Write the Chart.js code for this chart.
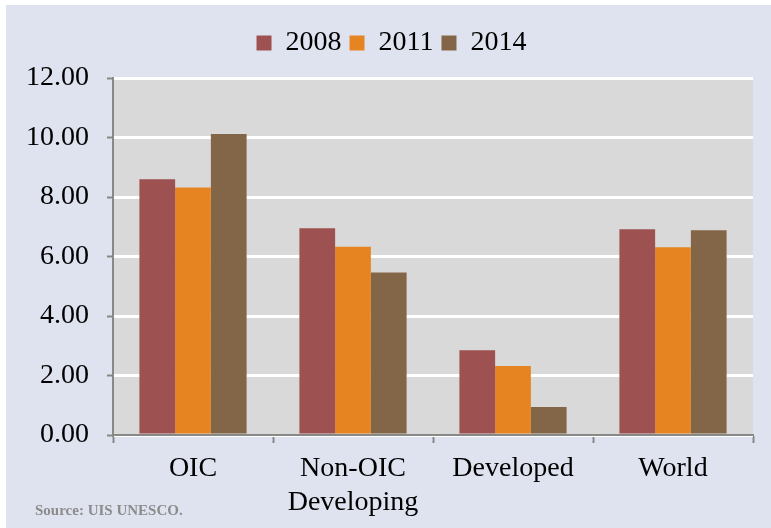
<!DOCTYPE html>
<html>
<head>
<meta charset="utf-8">
<script src="https://cdn.jsdelivr.net/npm/chart.js@4"></script>
<style>
  body { margin: 0; background: #ffffff; }
  #frame { position: absolute; left: 6px; top: 5px; width: 765px; height: 523px; background: #dfe3ef; }
  #wrap { position: absolute; left: 0; top: 0; width: 771px; height: 528px; }
  #source { position: absolute; left: 35px; top: 502px; font: bold 15px "Liberation Serif", serif; color: #8c8c8c; }
</style>
</head>
<body>
<div id="frame"></div>
<div id="wrap"><canvas id="chart" width="771" height="528"></canvas></div>
<div id="source">Source: UIS UNESCO.</div>
<script>
const categories = ["OIC", ["Non-OIC", "Developing"], "Developed", "World"];
const years = ["2008", "2011", "2014"];
const values2008 = [8.60, 6.95, 2.85, 6.92];
const values2011 = [8.32, 6.33, 2.32, 6.31];
const values2014 = [10.12, 5.46, 0.94, 6.88];
const yTicks = [0, 2, 4, 6, 8, 10, 12];
const colors = ["#9e5151", "#e58421", "#836648"];

const plotBackground = {
    id: "plotBackground",
    beforeDraw(chart) {
        const a = chart.chartArea;
        const ctx = chart.ctx;
        ctx.save();
        ctx.fillStyle = "#d9d9d9";
        ctx.fillRect(a.left, a.top, a.right - a.left, a.bottom - a.top);
        ctx.restore();
    }
};

// push the plot area down below the legend, and nudge the legend right
const legendSpace = {
    id: "legendSpace",
    beforeInit(chart) {
        const fit = chart.legend.fit;
        chart.legend.fit = function () {
            fit.call(this);
            this.height += 11;
        };
    },
    afterLayout(chart) {
        chart.legend.left += 15;
        chart.legend.right += 15;
    }
};

const font = { family: "'Liberation Serif', serif", size: 28 };

new Chart(document.getElementById("chart"), {
    type: "bar",
    data: {
        labels: categories,
        datasets: [values2008, values2011, values2014].map((vals, i) => ({
            label: years[i],
            data: vals,
            backgroundColor: colors[i],
            borderWidth: 0,
            categoryPercentage: 0.67,
            barPercentage: 1.0
        }))
    },
    options: {
        responsive: false,
        animation: false,
        layout: { padding: { top: 21, left: 0, right: 18, bottom: 0 } },
        plugins: {
            legend: {
                position: "top",
                labels: { font: font, color: "#000", boxWidth: 15, boxHeight: 15, padding: 8 }
            },
            tooltip: { enabled: false }
        },
        scales: {
            x: {
                afterFit(s) { s.height = 93; },
                grid: { offset: true, drawOnChartArea: false, drawTicks: true, tickLength: 8, color: "#888", tickWidth: 2 },
                border: { color: "#888", width: 2 },
                ticks: { font: font, color: "#000", padding: 9 }
            },
            y: {
                min: 0,
                max: 12,
                afterFit(s) { s.width = 113; },
                afterBuildTicks(s) { s.ticks = yTicks.map(v => ({ value: v })); },
                grid: { color: "#ffffff", lineWidth: 3, tickColor: "#888", tickLength: 6, tickWidth: 2 },
                border: { color: "#888", width: 2 },
                ticks: { font: font, color: "#000", padding: 18, callback: v => v.toFixed(2) }
            }
        }
    },
    plugins: [plotBackground, legendSpace]
});
</script>
</body>
</html>
